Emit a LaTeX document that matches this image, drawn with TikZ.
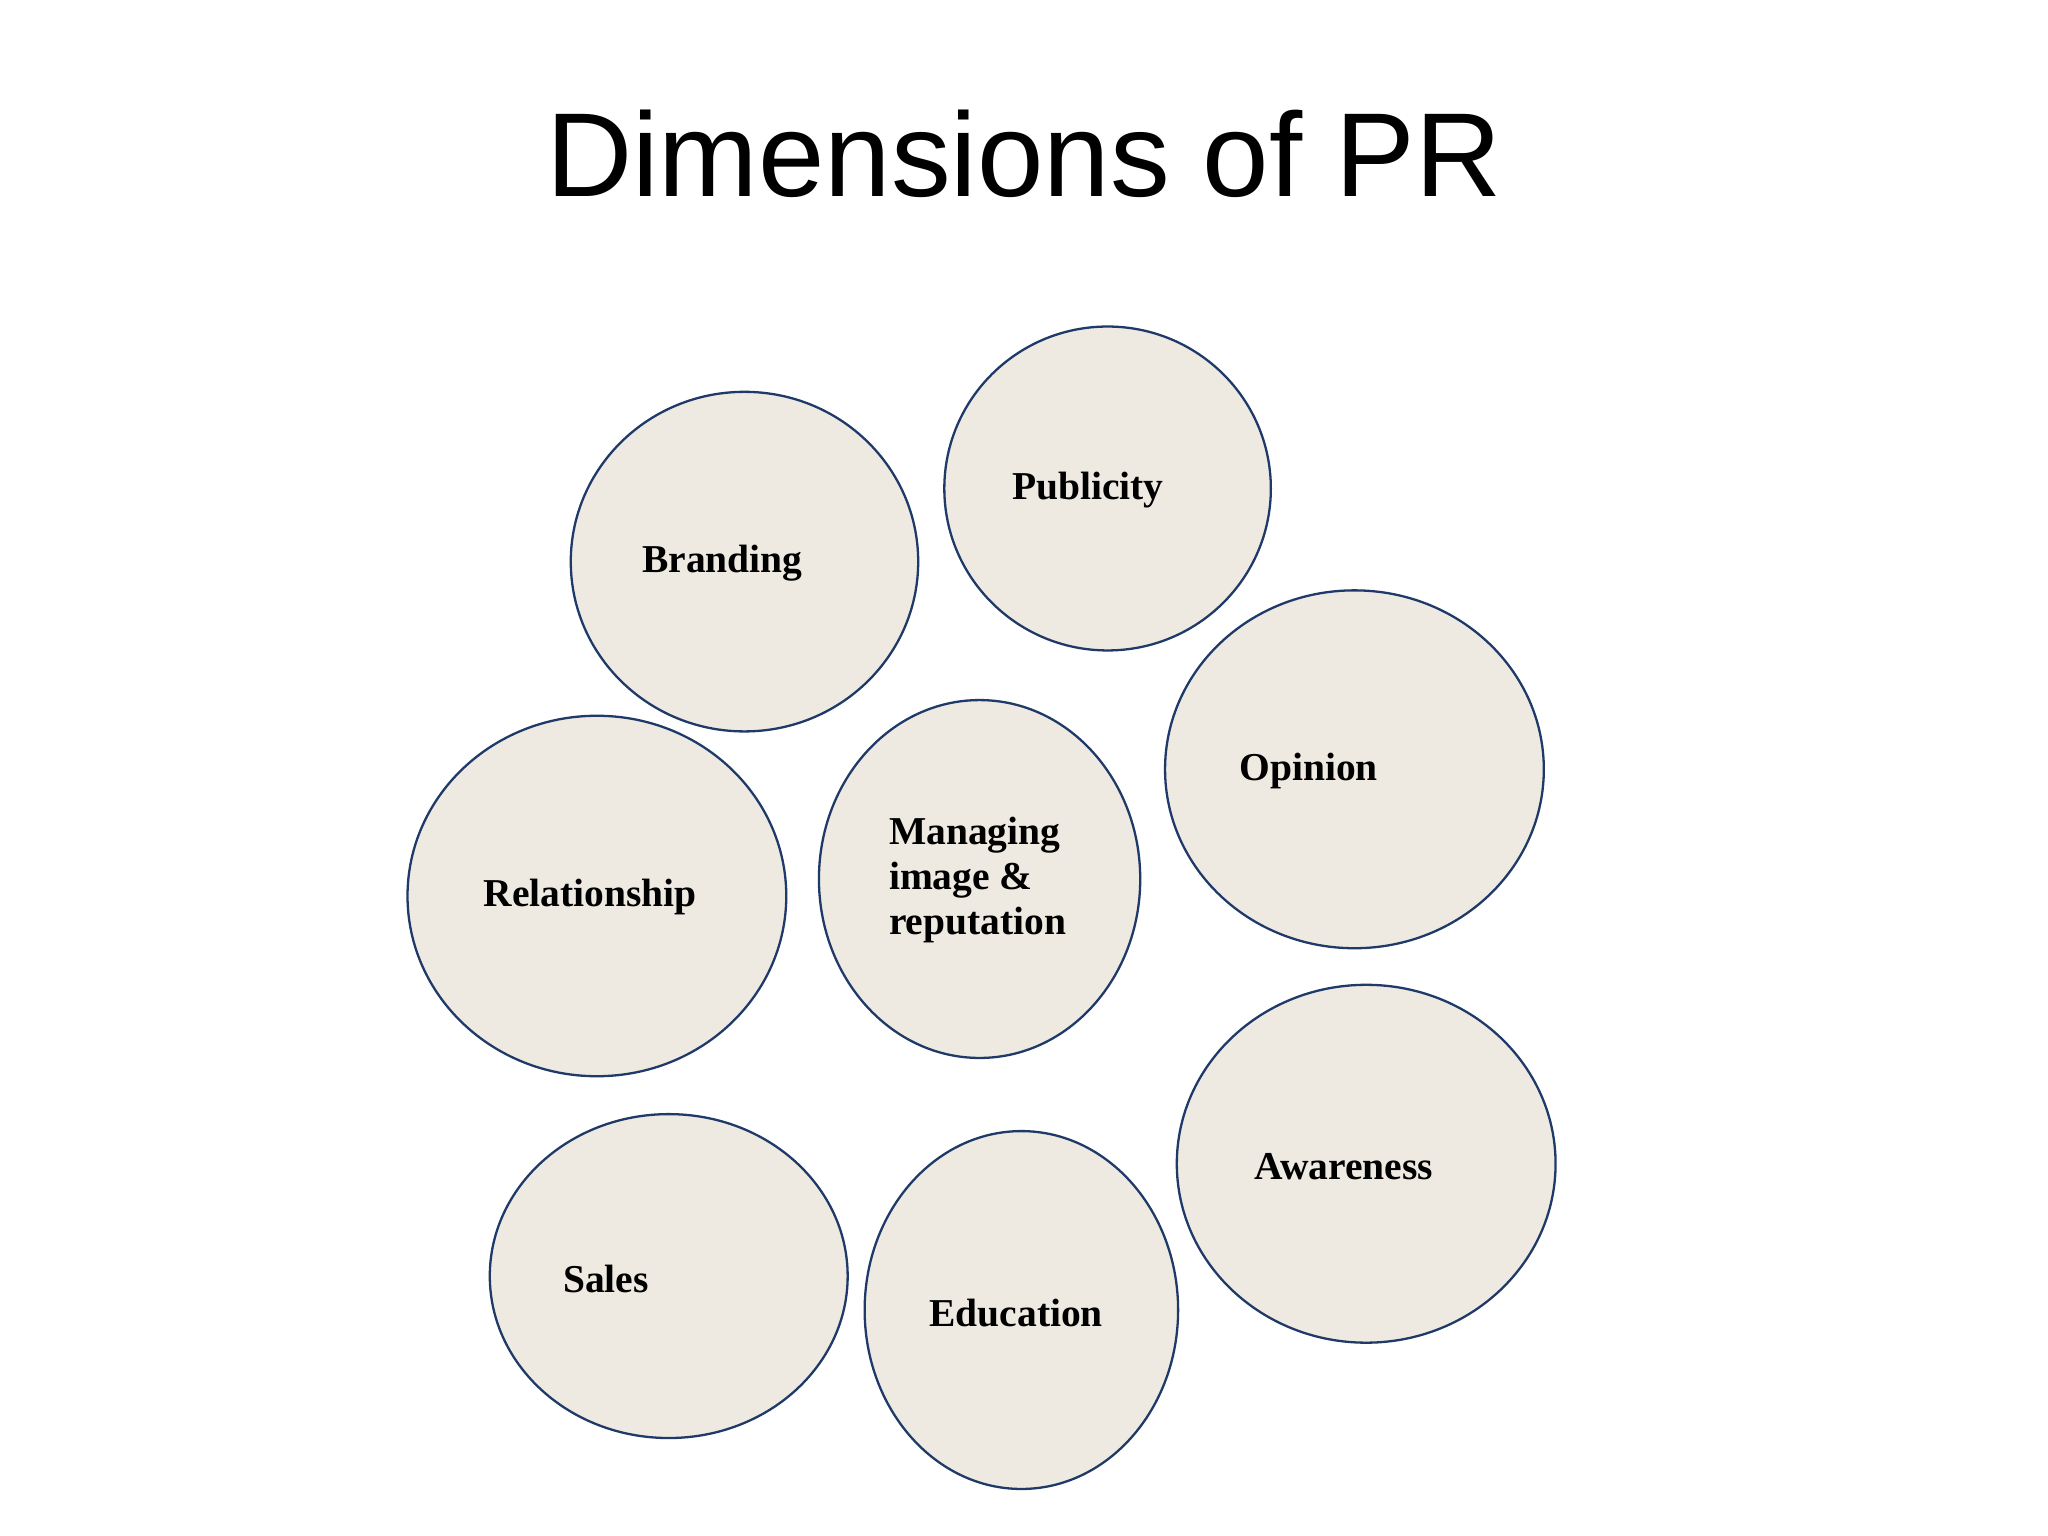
\documentclass[tikz,border=0pt]{standalone}
\usepackage{fontspec}
\setmainfont{Liberation Serif}
\newfontfamily\titlefont{Liberation Sans}
\definecolor{bub}{HTML}{EEEAE2}
\definecolor{edge}{HTML}{1F3A68}
\begin{document}
\begin{tikzpicture}[x=0.01cm,y=-0.01cm,
  bubble/.style={draw=edge,fill=bub,line width=0.5pt},
  lbl/.style={font=\fontsize{8.6}{9.6}\selectfont\bfseries,inner sep=0pt}]
\useasboundingbox (0,0) rectangle (1568,1176);
\node[font=\titlefont\fontsize{26}{30}\selectfont] (title) at (784,118) {Dimensions of PR};
\draw[bubble] (848,374) ellipse [x radius=125,y radius=124];
\draw[bubble] (570,430) ellipse [x radius=133,y radius=130];
\draw[bubble] (1037,589) ellipse [x radius=145,y radius=137];
\draw[bubble] (457,686) ellipse [x radius=145,y radius=138];
\draw[bubble] (750,673) ellipse [x radius=123,y radius=137];
\draw[bubble] (1046,891) ellipse [x radius=145,y radius=137];
\draw[bubble] (512,977) ellipse [x radius=137,y radius=124];
\draw[bubble] (782,1003) ellipse [x radius=120,y radius=137];
\node[lbl] (pub) at (833,375) {Publicity};
\node[lbl] (bra) at (553,431) {Branding};
\node[lbl] (opi) at (1002,590) {Opinion};
\node[lbl] (rel) at (452,687) {Relationship};
\node[lbl,anchor=west,align=left,font=\fontsize{8.6}{9.8}\selectfont\bfseries] (man) at (680,674) {Managing\\image \&\\reputation};
\node[lbl] (awa) at (1029,893) {Awareness};
\node[lbl] (sal) at (464,979) {Sales};
\node[lbl] (edu) at (778,1005) {Education};
\end{tikzpicture}
\end{document}
